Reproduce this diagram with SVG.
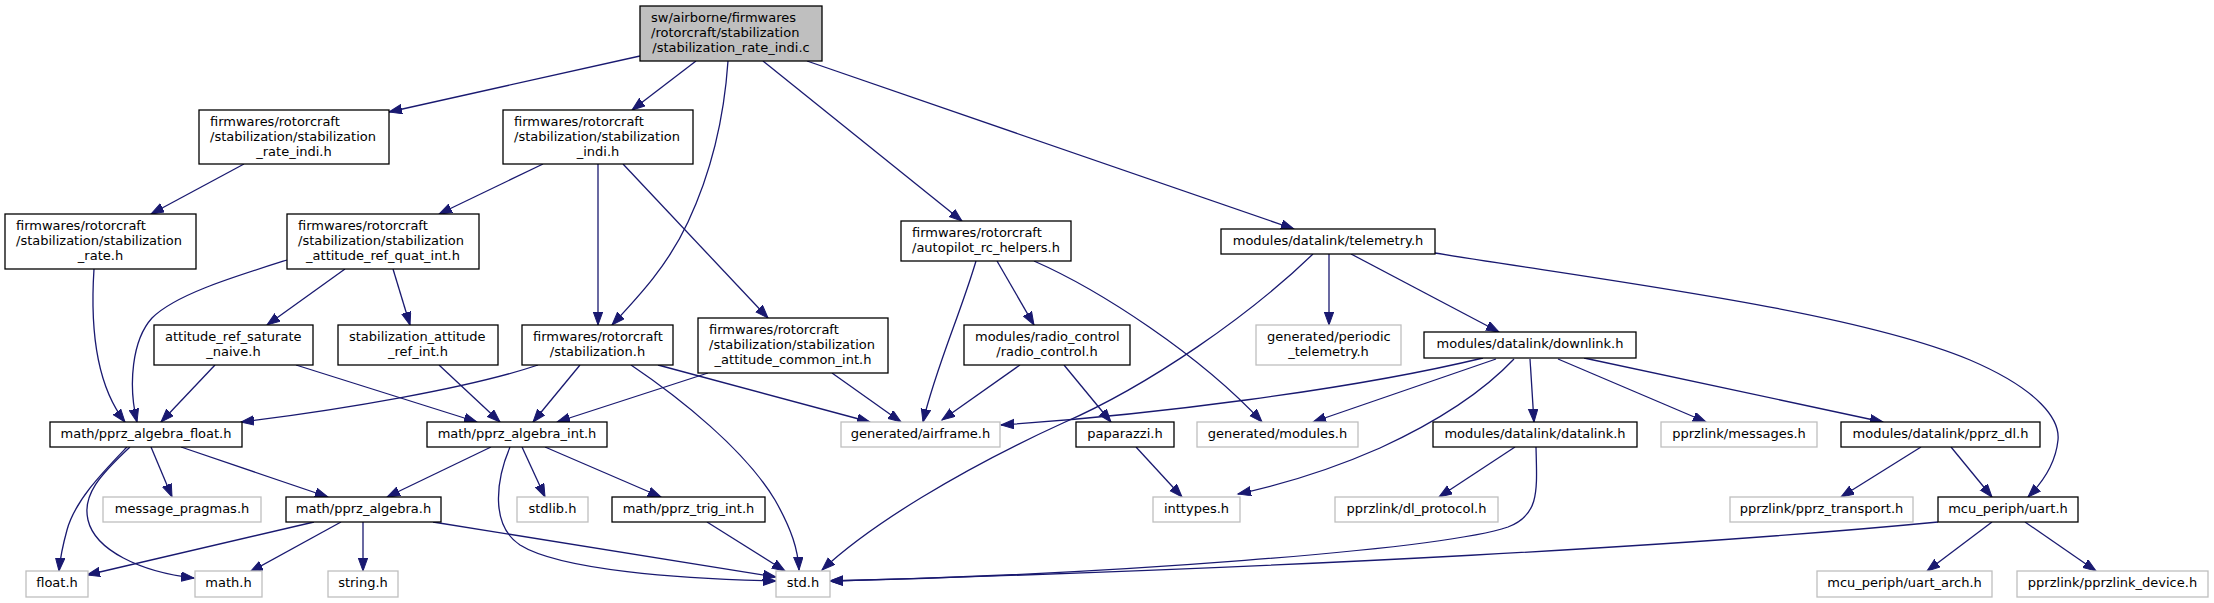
<svg xmlns="http://www.w3.org/2000/svg" width="2214" height="603" viewBox="0 0 2214 603">
<style>
.n rect{fill:#fff;stroke:#000;stroke-width:1.3}
.n.g rect{stroke:#bfbfbf}
.n.m rect{fill:#bfbfbf;stroke:#000}
text{font-family:"DejaVu Sans","Liberation Sans",sans-serif;font-size:13px;fill:#000}
.c{text-anchor:middle}
#edges path{fill:none;stroke:#191970;stroke-width:1.3;marker-end:url(#a)}
</style>
<defs>
<marker id="a" markerUnits="userSpaceOnUse" markerWidth="15" markerHeight="11" refX="13" refY="5" orient="auto">
<path d="M0,0.3 L13,5 L0,9.7 z" fill="#191970" stroke="#191970" stroke-width="1"/>
</marker>
</defs>
<rect width="2214" height="603" fill="#fff"/>
<g id="edges">
<path d="M640,56 L389,112"/>
<path d="M696,61 L632,110"/>
<path d="M728,61 C724,120 710,175 688,222 C668,265 640,295 612,325"/>
<path d="M763,61 L962,221"/>
<path d="M807,61 L1294,229"/>
<path d="M244,164 L151,214"/>
<path d="M543,164 L439,214"/>
<path d="M598,164 L598,325"/>
<path d="M623,164 L768,318"/>
<path d="M94,269 C90,330 96,385 125,422"/>
<path d="M287,260 C230,278 175,295 152,318 C132,340 128,385 137,422"/>
<path d="M345,269 L267,325"/>
<path d="M393,269 L410,325"/>
<path d="M215,365 L161,422"/>
<path d="M296,365 L477,422"/>
<path d="M439,365 L500,422"/>
<path d="M538,365 C470,388 340,410 241,422"/>
<path d="M580,365 L533,422"/>
<path d="M631,365 C680,398 745,450 775,500 C792,530 798,550 799,570"/>
<path d="M658,365 L870,422"/>
<path d="M708,373 L557,422"/>
<path d="M832,373 L901,422"/>
<path d="M151,447 L172,497"/>
<path d="M181,447 L328,497"/>
<path d="M127,447 C105,470 75,500 67,530 C62,548 60,560 59,571"/>
<path d="M130,447 C100,475 82,495 88,520 C95,550 140,572 194,578"/>
<path d="M491,447 L387,497"/>
<path d="M522,447 L545,497"/>
<path d="M545,447 L661,497"/>
<path d="M510,447 C496,480 490,525 520,545 C560,570 680,579 776,581"/>
<path d="M314,522 L87,575"/>
<path d="M341,522 L250,572"/>
<path d="M363,522 L363,571"/>
<path d="M433,522 L776,577"/>
<path d="M707,522 L785,571"/>
<path d="M976,261 C960,315 935,370 923,422"/>
<path d="M997,261 L1034,325"/>
<path d="M1034,261 C1100,290 1200,355 1262,422"/>
<path d="M1020,365 L942,420"/>
<path d="M1064,365 L1111,422"/>
<path d="M1136,447 L1182,497"/>
<path d="M1313,254 C1250,315 1150,385 1063,423 C960,470 870,525 822,570"/>
<path d="M1329,254 L1329,325"/>
<path d="M1351,254 L1499,332"/>
<path d="M1435,253 C1600,280 1850,310 1970,360 C2040,390 2060,420 2058,440 C2056,460 2045,480 2028,497"/>
<path d="M1483,358 C1350,390 1150,415 1001,425"/>
<path d="M1496,359 L1313,422"/>
<path d="M1514,359 C1480,395 1430,425 1380,448 C1330,470 1280,485 1238,494"/>
<path d="M1530,359 L1534,422"/>
<path d="M1558,359 L1706,422"/>
<path d="M1584,358 L1883,422"/>
<path d="M1515,447 L1439,497"/>
<path d="M1536,447 C1537,490 1540,515 1508,527 C1440,550 1100,575 830,581"/>
<path d="M1921,447 L1841,497"/>
<path d="M1951,447 L1992,497"/>
<path d="M1938,522 C1700,545 1300,568 830,581"/>
<path d="M1992,522 L1927,571"/>
<path d="M2025,522 L2096,571"/>
</g>
<g id="n0" class="n m"><rect x="640" y="6" width="182" height="55"/><text x="651" y="22">sw/airborne/firmwares</text><text x="651" y="37">/rotorcraft/stabilization</text><text x="731" y="51.5" class="c">/stabilization_rate_indi.c</text></g>
<g id="n1" class="n"><rect x="199" y="110" width="190" height="54"/><text x="210" y="126">firmwares/rotorcraft</text><text x="210" y="141">/stabilization/stabilization</text><text x="294" y="155.5" class="c">_rate_indi.h</text></g>
<g id="n2" class="n"><rect x="503" y="110" width="190" height="54"/><text x="514" y="126">firmwares/rotorcraft</text><text x="514" y="141">/stabilization/stabilization</text><text x="598" y="155.5" class="c">_indi.h</text></g>
<g id="n3" class="n"><rect x="5" y="214" width="191" height="55"/><text x="16" y="230">firmwares/rotorcraft</text><text x="16" y="245">/stabilization/stabilization</text><text x="100.5" y="259.5" class="c">_rate.h</text></g>
<g id="n4" class="n"><rect x="287" y="214" width="192" height="55"/><text x="298" y="230">firmwares/rotorcraft</text><text x="298" y="245">/stabilization/stabilization</text><text x="383" y="259.5" class="c">_attitude_ref_quat_int.h</text></g>
<g id="n5" class="n"><rect x="154" y="325" width="159" height="40"/><text x="165" y="341">attitude_ref_saturate</text><text x="233.5" y="356" class="c">_naive.h</text></g>
<g id="n6" class="n"><rect x="338" y="325" width="160" height="40"/><text x="349" y="341">stabilization_attitude</text><text x="418" y="356" class="c">_ref_int.h</text></g>
<g id="n7" class="n"><rect x="522" y="325" width="151" height="40"/><text x="533" y="341">firmwares/rotorcraft</text><text x="597.5" y="356" class="c">/stabilization.h</text></g>
<g id="n8" class="n"><rect x="698" y="318" width="190" height="55"/><text x="709" y="334">firmwares/rotorcraft</text><text x="709" y="349">/stabilization/stabilization</text><text x="793" y="363.5" class="c">_attitude_common_int.h</text></g>
<g id="n9" class="n"><rect x="901" y="221" width="170" height="40"/><text x="912" y="237">firmwares/rotorcraft</text><text x="986" y="252" class="c">/autopilot_rc_helpers.h</text></g>
<g id="n10" class="n"><rect x="1221" y="229" width="214" height="25"/><text x="1328" y="245" class="c">modules/datalink/telemetry.h</text></g>
<g id="n11" class="n"><rect x="964" y="325" width="166" height="40"/><text x="975" y="341">modules/radio_control</text><text x="1047" y="356" class="c">/radio_control.h</text></g>
<g id="n12" class="n g"><rect x="1256" y="325" width="145" height="40"/><text x="1267" y="341">generated/periodic</text><text x="1328.5" y="356" class="c">_telemetry.h</text></g>
<g id="n13" class="n"><rect x="1424" y="332" width="212" height="26"/><text x="1530" y="348" class="c">modules/datalink/downlink.h</text></g>
<g id="n14" class="n"><rect x="50" y="422" width="192" height="25"/><text x="146" y="438" class="c">math/pprz_algebra_float.h</text></g>
<g id="n15" class="n"><rect x="427" y="422" width="180" height="25"/><text x="517" y="438" class="c">math/pprz_algebra_int.h</text></g>
<g id="n16" class="n g"><rect x="841" y="422" width="159" height="25"/><text x="920.5" y="438" class="c">generated/airframe.h</text></g>
<g id="n17" class="n"><rect x="1076" y="422" width="98" height="25"/><text x="1125" y="438" class="c">paparazzi.h</text></g>
<g id="n18" class="n g"><rect x="1197" y="422" width="161" height="25"/><text x="1277.5" y="438" class="c">generated/modules.h</text></g>
<g id="n19" class="n"><rect x="1433" y="422" width="204" height="25"/><text x="1535" y="438" class="c">modules/datalink/datalink.h</text></g>
<g id="n20" class="n g"><rect x="1661" y="422" width="156" height="25"/><text x="1739" y="438" class="c">pprzlink/messages.h</text></g>
<g id="n21" class="n"><rect x="1841" y="422" width="199" height="25"/><text x="1940.5" y="438" class="c">modules/datalink/pprz_dl.h</text></g>
<g id="n22" class="n g"><rect x="103" y="497" width="158" height="25"/><text x="182" y="513" class="c">message_pragmas.h</text></g>
<g id="n23" class="n"><rect x="286" y="497" width="155" height="25"/><text x="363.5" y="513" class="c">math/pprz_algebra.h</text></g>
<g id="n24" class="n g"><rect x="517" y="497" width="71" height="25"/><text x="552.5" y="513" class="c">stdlib.h</text></g>
<g id="n25" class="n"><rect x="612" y="497" width="153" height="25"/><text x="688.5" y="513" class="c">math/pprz_trig_int.h</text></g>
<g id="n26" class="n g"><rect x="1153" y="497" width="87" height="25"/><text x="1196.5" y="513" class="c">inttypes.h</text></g>
<g id="n27" class="n g"><rect x="1335" y="497" width="163" height="25"/><text x="1416.5" y="513" class="c">pprzlink/dl_protocol.h</text></g>
<g id="n28" class="n g"><rect x="1730" y="497" width="183" height="25"/><text x="1821.5" y="513" class="c">pprzlink/pprz_transport.h</text></g>
<g id="n29" class="n"><rect x="1938" y="497" width="140" height="25"/><text x="2008" y="513" class="c">mcu_periph/uart.h</text></g>
<g id="n30" class="n g"><rect x="26" y="571" width="62" height="26"/><text x="57" y="587" class="c">float.h</text></g>
<g id="n31" class="n g"><rect x="195" y="571" width="67" height="26"/><text x="228.5" y="587" class="c">math.h</text></g>
<g id="n32" class="n g"><rect x="328" y="571" width="70" height="26"/><text x="363" y="587" class="c">string.h</text></g>
<g id="n33" class="n g"><rect x="776" y="571" width="54" height="26"/><text x="803" y="587" class="c">std.h</text></g>
<g id="n34" class="n g"><rect x="1817" y="571" width="175" height="26"/><text x="1904.5" y="587" class="c">mcu_periph/uart_arch.h</text></g>
<g id="n35" class="n g"><rect x="2017" y="571" width="191" height="26"/><text x="2112.5" y="587" class="c">pprzlink/pprzlink_device.h</text></g>
</svg>
